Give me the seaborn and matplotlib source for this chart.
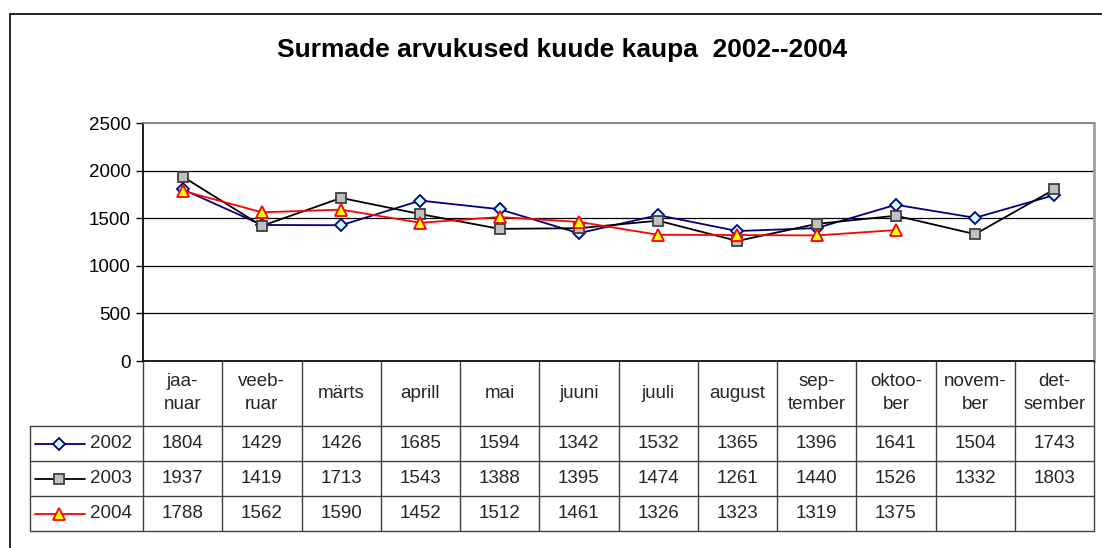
import numpy as np
import pandas as pd
import matplotlib
matplotlib.use("Agg")
import matplotlib.pyplot as plt
import seaborn as sns
from matplotlib.lines import Line2D

MONTHS = ["jaa-\nnuar", "veeb-\nruar", "märts", "aprill", "mai", "juuni", "juuli",
          "august", "sep-\ntember", "oktoo-\nber", "novem-\nber", "det-\nsember"]
YEARS = ["2002", "2003", "2004"]
D2002 = [1804, 1429, 1426, 1685, 1594, 1342, 1532, 1365, 1396, 1641, 1504, 1743]
D2003 = [1937, 1419, 1713, 1543, 1388, 1395, 1474, 1261, 1440, 1526, 1332, 1803]
D2004 = [1788, 1562, 1590, 1452, 1512, 1461, 1326, 1323, 1319, 1375, None, None]
Y_TICKS = [0, 500, 1000, 1500, 2000, 2500]

STYLES = {
    "2002": dict(color="#000080", marker="D", mfc="#CCFFFF", mec="#000080", ms=6.5),
    "2003": dict(color="#000000", marker="s", mfc="#C0C0C0", mec="#404040", ms=7.5),
    "2004": dict(color="#FF0000", marker="^", mfc="#FFFF00", mec="#FF0000", ms=9),
}
FS = 13.5

rows = []
for year, vals in zip(YEARS, [D2002, D2003, D2004]):
    for i, v in enumerate(vals):
        if v is not None:
            rows.append({"month": i, "year": year, "deaths": v})
df = pd.DataFrame(rows)

W, H = 1102, 548
sns.set_theme(style="white")
plt.rcParams["font.family"] = ["Liberation Sans", "DejaVu Sans"]

fig = plt.figure(figsize=(W / 100, H / 100), dpi=100)
fig.patch.set_facecolor("white")

# pixel geometry of the plot area
px_left, px_right, px_top, px_bottom = 143, 1094, 123, 361
ax = fig.add_axes([px_left / W, 1 - px_bottom / H,
                   (px_right - px_left) / W, (px_bottom - px_top) / H])

for year in YEARS:
    st = STYLES[year]
    sub = df[df["year"] == year]
    sns.lineplot(data=sub, x="month", y="deaths", ax=ax, color=st["color"],
                 marker=st["marker"], markerfacecolor=st["mfc"],
                 markeredgecolor=st["mec"], markersize=st["ms"],
                 markeredgewidth=1.3, linewidth=1.3, legend=False, zorder=3)

ax.set_xlim(-0.5, len(MONTHS) - 0.5)
ax.set_ylim(0, 2500)
ax.set_yticks(Y_TICKS)
ax.set_yticklabels([str(t) for t in Y_TICKS], fontsize=FS, color="black")
ax.set_xticks([])
ax.set_xlabel("")
ax.set_ylabel("")
for t in Y_TICKS[1:-1]:
    ax.axhline(t, color="#000000", lw=0.9, zorder=1)
ax.axhline(2500, color="#808080", lw=1.2, zorder=1)
ax.tick_params(axis="y", direction="out", length=5, width=1, color="black",
               left=True, pad=4)
ax.spines["left"].set_color("black")
ax.spines["bottom"].set_color("black")
ax.spines["top"].set_color("#808080")
ax.spines["right"].set_color("#A0A0A0")
ax.spines["right"].set_linewidth(2)
for s in ax.spines.values():
    s.set_visible(True)

fig.text(562 / W, 1 - 50 / H, "Surmade arvukused kuude kaupa  2002--2004",
         ha="center", va="center", fontsize=19, fontweight="bold", color="black")

# data table below the plot area, in figure pixels
def fx(x):
    return x / W

def fy(y):
    return 1 - y / H

col_w = (px_right - px_left) / len(MONTHS)
tbl_left = 30
row_edges = [361, 426, 461, 496, 531]
grid_c = "#404040"
lines = []
lines.append(([tbl_left, px_right], [426, 426]))
for y in row_edges[2:]:
    lines.append(([tbl_left, px_right], [y, y]))
for k in range(len(MONTHS) + 1):
    x = px_left + k * col_w
    lines.append(([x, x], [361, 531]))
lines.append(([tbl_left, tbl_left], [426, 531]))
for xs, ys in lines:
    fig.add_artist(Line2D([fx(v) for v in xs], [fy(v) for v in ys],
                          color=grid_c, lw=1, transform=fig.transFigure))

# month header
for k, m in enumerate(MONTHS):
    cx = px_left + (k + 0.5) * col_w
    fig.text(fx(cx), fy(393), m, ha="center", va="center", fontsize=FS,
             linespacing=1.45)

# series rows
for r, (year, vals) in enumerate(zip(YEARS, [D2002, D2003, D2004])):
    cy = (row_edges[r + 1] + row_edges[r + 2]) / 2
    st = STYLES[year]
    fig.add_artist(Line2D([fx(35), fx(85)], [fy(cy), fy(cy)], color=st["color"],
                          lw=1.3, transform=fig.transFigure))
    fig.add_artist(Line2D([fx(59)], [fy(cy)], color=st["color"], marker=st["marker"],
                          mfc=st["mfc"], mec=st["mec"], ms=st["ms"], mew=1.3,
                          transform=fig.transFigure))
    fig.text(fx(90), fy(cy), year, ha="left", va="center", fontsize=FS)
    for k, v in enumerate(vals):
        if v is None:
            continue
        cx = px_left + (k + 0.5) * col_w
        fig.text(fx(cx), fy(cy), str(v), ha="center", va="center", fontsize=FS)

# outer chart border (left and top visible)
fig.add_artist(Line2D([fx(10), fx(10)], [fy(548), fy(14)], color="black", lw=1.2,
                      transform=fig.transFigure))
fig.add_artist(Line2D([fx(10), fx(1102)], [fy(14), fy(14)], color="black", lw=1.2,
                      transform=fig.transFigure))

fig.savefig("out.png", dpi=100)
